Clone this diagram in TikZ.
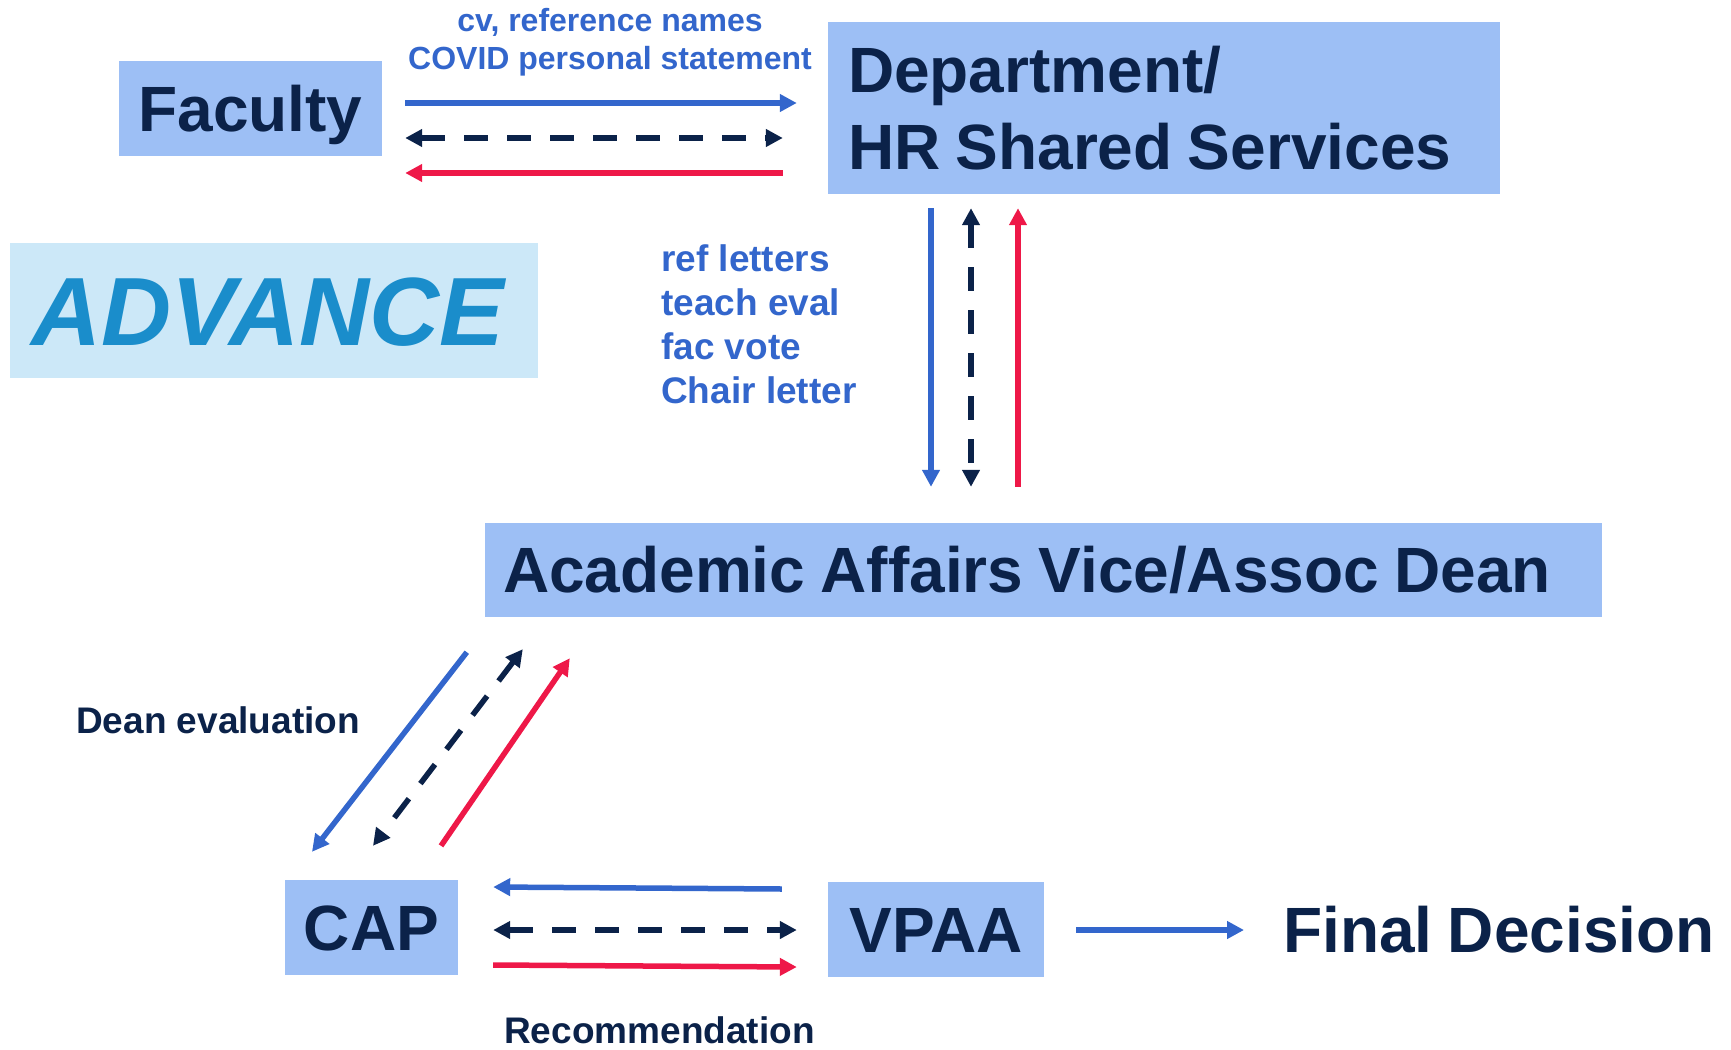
\documentclass[tikz,border=0pt]{standalone}
\usepackage{fontspec}
\setmainfont{Liberation Sans}
\usetikzlibrary{arrows.meta,calc}
\definecolor{boxfill}{HTML}{9DBFF5}
\definecolor{navy}{HTML}{0B2249}
\definecolor{blueA}{HTML}{3366CC}
\definecolor{redA}{HTML}{EE1848}
\definecolor{advfill}{HTML}{CCE8F8}
\definecolor{advtext}{HTML}{1A8DCB}
\newcommand{\tightspace}{\spaceskip=15.3pt plus 1pt minus 1pt\relax}
\begin{document}
\begin{tikzpicture}[x=1pt,y=-1pt,
  bigfont/.style={font=\fontsize{64}{77}\selectfont\bfseries,
    execute at begin node=\tightspace},
  box/.style={fill=boxfill, draw=none, inner sep=0pt, text=navy, bigfont,
    text height=45.8pt, text depth=0pt},
  lab/.style={inner sep=0pt, font=\fontsize{37}{44.3}\selectfont\bfseries},
  arr/.style={line width=5.5pt, -{Triangle[width=17pt,length=17pt]}},
  bl/.style={arr, draw=blueA},
  rd/.style={arr, draw=redA},
  dsh/.style={line width=5.5pt, draw=navy, dash pattern=on 24pt off 19pt,
    {Triangle[width=17pt,length=17pt]}-{Triangle[width=17pt,length=17pt]}}]
\path[use as bounding box] (0,0) rectangle (1731,1049);

% boxes
\node[box, minimum width=263pt, minimum height=95pt] (fac) at (250.5,108.5) {Faculty};
\node[fill=boxfill, inner ysep=0pt, inner xsep=20pt, text=navy, bigfont,
  minimum width=672pt, minimum height=172pt, text width=632pt, align=left]
  (dept) at (1164,108) {Department/\\HR Shared Services};
\node[fill=advfill, inner sep=0pt, minimum width=528pt, minimum height=135pt]
  (adv) at (274,310.5) {};
\node[inner sep=0pt, text=advtext,
  font=\fontsize{97}{116}\selectfont\bfseries\itshape,
  text height=69.5pt, text depth=0pt] (advt) at ($(adv.center)+(-6,0)$) {ADVANCE};
\node[box, inner xsep=18pt, minimum width=1117pt, minimum height=94pt,
  text width=1081pt, align=left] (acad) at (1043.5,570) {Academic Affairs Vice/Assoc Dean};
\node[box, minimum width=173pt, minimum height=95pt] (cap) at (371.5,927.5) {CAP};
\node[box, minimum width=216pt, minimum height=95pt] (vpaa) at (936,929.5) {VPAA};
\node[inner sep=0pt, text=navy, bigfont, text height=45.8pt, text depth=0pt,
  anchor=west] (final) at (1283,930) {Final Decision};

% labels
\node[inner sep=0pt, text=blueA, font=\fontsize{32}{38}\selectfont\bfseries,
  align=center, anchor=north] (toplab) at (610,8.6)
  {cv, reference names\\COVID personal statement};
\node[lab, text=blueA, align=left, anchor=north west] (vlab) at (661,244)
  {ref letters\\teach eval\\fac vote\\Chair letter};
\node[lab, text=navy, anchor=base west] (deaneval) at (76,733) {Dean evaluation};
\node[lab, text=navy, anchor=base west] (recom) at (504,1043.5) {Recommendation};

% Faculty <-> Department
\draw[bl] ($(fac.east)+(23,-5.5)$) -- ($(dept.west)+(-31,-5)$);
\draw[dsh] ($(fac.east)+(23,29.5)$) -- ($(dept.west)+(-45,30)$);
\draw[rd] ($(dept.west)+(-45,65)$) -- ($(fac.east)+(23,64.5)$);

% Department <-> Academic Affairs
\draw[bl] ($(dept.south)+(-233,14)$) -- ($(acad.north)+(-112.5,-36)$);
\draw[dsh] ($(dept.south)+(-193,14)$) -- ($(acad.north)+(-72.5,-36)$);
\draw[rd] ($(acad.north)+(-25.5,-36)$) -- ($(dept.south)+(-146,14)$);

% Academic Affairs <-> CAP
\draw[bl] ($(acad.south west)+(-18,35)$) -- ($(cap.north)+(-59.5,-28)$);
\draw[dsh] ($(acad.south west)+(38,32)$) -- ($(cap.north)+(1.5,-34)$);
\draw[rd] ($(cap.north)+(69.5,-34)$) -- ($(acad.south west)+(85,41)$);

% CAP <-> VPAA
\draw[bl] ($(vpaa.west)+(-46,-40.5)$) -- ($(cap.east)+(35,-40.5)$);
\draw[dsh] ($(cap.east)+(35,2.5)$) -- ($(vpaa.west)+(-31,0.5)$);
\draw[rd] ($(cap.east)+(35,37.5)$) -- ($(vpaa.west)+(-31,37.5)$);

% VPAA -> Final Decision
\draw[bl] ($(vpaa.east)+(32,0.5)$) -- ($(final.west)+(-39,0)$);
\end{tikzpicture}
\end{document}
